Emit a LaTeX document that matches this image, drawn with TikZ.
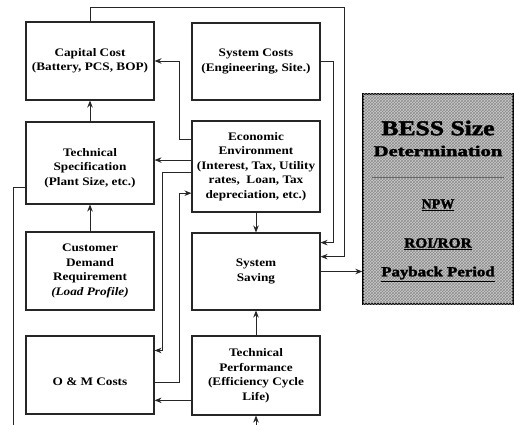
\documentclass[tikz,border=0pt]{standalone}
\usepackage{fontspec}
\setmainfont{Liberation Serif}[FakeStretch=1.15]
\newfontfamily\bessfont{Liberation Serif}[BoldFeatures={FakeBold=2}]
\usepackage{graphicx}
\usetikzlibrary{arrows.meta,patterns,calc}
\begin{document}
\begin{tikzpicture}[x=1pt,y=-1pt,
  box/.style={draw=black!85, line width=1.1pt, minimum width=128pt, align=center,
    font=\fontsize{11.5}{14.5}\selectfont\bfseries, inner sep=2pt},
  txt/.style={align=center, font=\fontsize{11.5}{14.5}\selectfont\bfseries, inner sep=0pt},
  conn/.style={line width=0.9pt, draw=black!85},
  arr/.style={conn, -{Stealth[length=7pt,width=5.5pt]}},
  bessbox/.style={draw=black, line width=1.3pt, fill=gray!40,
    postaction={pattern=crosshatch, pattern color=black!45}},
  bt/.style={inner sep=0pt, font=\bessfont\bfseries},
]
\useasboundingbox (0,0) rectangle (514,425);

% boxes
\node[box, minimum height=78pt] (cap) at (90,61) {Capital Cost\\(Battery, PCS, BOP)};
\node[box, minimum height=77pt] (sys) at (256,61.5) {System Costs\\(Engineering, Site.)};
\node[box, minimum height=82pt] (spec) at (90,163) {};
\node[txt] at ([yshift=-5pt]spec.center) {Technical\\Specification\\(Plant Size, etc.)};
\node[box, minimum height=91pt] (eco) at (256,166.5) {Economic\\Environment\\(Interest, Tax, Utility\\rates,\ \ Loan, Tax\\depreciation, etc.)};
\node[box, minimum height=78pt] (cust) at (90,271) {Customer\\Demand\\Requirement\\{\itshape (Load Profile)}};
\node[box, minimum height=77pt] (sav) at (256,271.5) {System\\Saving};
\node[box, minimum height=78pt] (om) at (90,375) {};
\node[txt] at ([yshift=-7pt]om.center) {O \& M Costs};
\node[box, minimum height=79pt] (perf) at (256,375.5) {Technical\\Performance\\(Efficiency Cycle\\Life)};

% BESS box
\node[bessbox, minimum width=150pt, minimum height=210pt] (bess) at (438,199) {};
\node[bt] (b1) at (438,128) {\scalebox{1.22}[1]{\fontsize{21}{21}\selectfont BESS Size}};
\node[bt] (b2) at (438,151) {\scalebox{1.38}[1]{\fontsize{15}{15}\selectfont Determination}};
\draw[black!60, line width=0.8pt] ($(bess.west)+(10,-22)$) -- ($(bess.east)+(-10,-22)$);
\node[bt] (b3) at (438,205) {\fontsize{14}{14}\selectfont\underline{NPW}};
\node[bt] (b4) at (438,244) {\scalebox{1.1}[1]{\fontsize{14}{14}\selectfont\underline{ROI/ROR}}};
\node[bt] (b5) at (438,274) {\scalebox{1.2}[1]{\fontsize{14}{14}\selectfont\underline{Payback Period}}};

% connectors
\draw[arr] (spec.north) -- (cap.south);
\draw[arr] (cust.north) -- (spec.south);
\draw[arr] (eco.south) -- (sav.north);
\draw[arr] (perf.north) -- (sav.south);
\coordinate (bot) at (256,425);
\draw[arr] (bot) -- (perf.south);
\coordinate (botL) at (13,425);
\draw[conn] ($(spec.north west)!0.8!(spec.south west)$) -| (botL);
\draw[arr] (cap.north) |- (344,7) |- ($(sav.north east)!0.31!(sav.south east)$);
\draw[arr] (sys.east) -- ++(13,0) |- ($(sav.north east)!0.13!(sav.south east)$);
\draw[arr] ($(eco.north west)!0.21!(eco.south west)$) -- ++(-12,0) |- (cap.east);
\draw[arr] ($(eco.north west)!0.43!(eco.south west)$) coordinate (e2) -- (e2 -| spec.east);
\draw[arr] ($(eco.north west)!0.57!(eco.south west)$) -- ++(-29,0) |- ($(om.north east)!0.19!(om.south east)$);
\draw[arr] ($(om.north east)!0.6!(om.south east)$) -- ++(25,0) |- ($(eco.north west)!0.79!(eco.south west)$);
\draw[arr] ($(perf.north west)!0.81!(perf.south west)$) coordinate (p1) -- (p1 -| om.east);
\draw[arr] (sav.east) -- (sav.east -| bess.west);
\end{tikzpicture}
\end{document}
